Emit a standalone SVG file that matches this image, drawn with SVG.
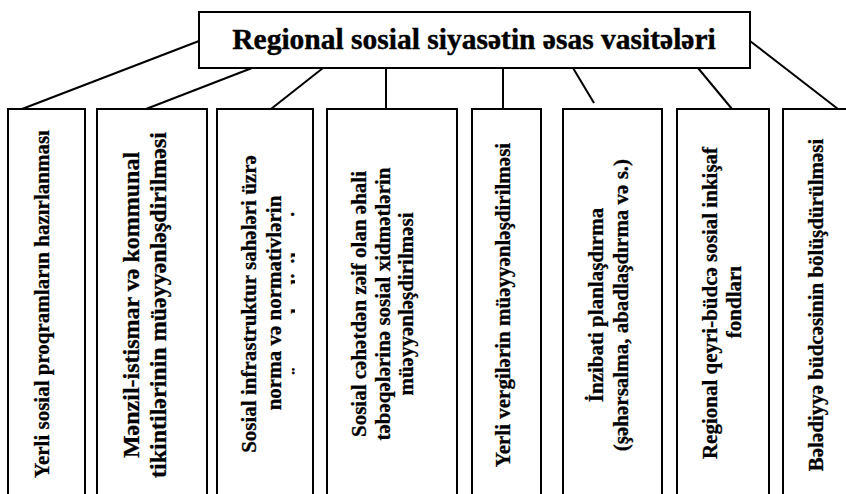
<svg xmlns="http://www.w3.org/2000/svg" width="846" height="494" viewBox="0 0 846 494">
  <style>
    .box { fill: #ffffff; stroke: #000000; stroke-width: 2; }
    .link { stroke: #000000; stroke-width: 2; fill: none; }
    .title { font-family: "Liberation Serif", "DejaVu Serif", serif; font-weight: bold; font-size: 29.5px; fill: #000000; stroke: #000000; stroke-width: 0.4; text-anchor: middle; }
    .lbl { font-family: "Liberation Serif", "DejaVu Serif", serif; font-weight: bold; font-size: 21px; fill: #000000; stroke: #000000; stroke-width: 0.3; text-anchor: middle; }
    .lbl-lg { font-size: 24px; }
  </style>
  <defs>
    <!-- inner text frame of the infrastructure box: its third line overflows and is cut -->
    <clipPath id="frame3" clipPathUnits="userSpaceOnUse">
      <rect x="217" y="109" width="78" height="385"/>
    </clipPath>
  </defs>
  <rect width="846" height="494" fill="#ffffff"/>

  <g id="connectors">
    <line class="link" x1="199" y1="41" x2="22" y2="109"/>
    <line class="link" x1="252" y1="68" x2="146" y2="109"/>
    <line class="link" x1="323" y1="68" x2="271" y2="109"/>
    <line class="link" x1="386" y1="68" x2="386" y2="109"/>
    <line class="link" x1="503" y1="68" x2="503" y2="109"/>
    <line class="link" x1="573" y1="68" x2="594" y2="103"/>
    <line class="link" x1="698" y1="68" x2="732" y2="109"/>
    <line class="link" x1="750" y1="41" x2="838" y2="109"/>
  </g>

  <g id="root">
    <rect class="box" x="199" y="12" width="551" height="56"/>
    <text class="title" x="474" y="49">Regional sosial siyasətin əsas vasitələri</text>
  </g>

  <g id="n1">
    <rect class="box" x="8" y="109" width="77" height="400"/>
    <text class="lbl" transform="translate(49,304) rotate(-90)">Yerli sosial proqramların hazırlanması</text>
  </g>

  <g id="n2">
    <rect class="box" x="97" y="109" width="110" height="400"/>
    <text class="lbl lbl-lg" transform="translate(139,305) rotate(-90)">Mənzil-istismar və kommunal</text>
    <text class="lbl lbl-lg" transform="translate(166,305) rotate(-90)">tikintilərinin müəyyənləşdirilməsi</text>
  </g>

  <g id="n3">
    <rect class="box" x="217" y="109" width="96" height="400"/>
    <g clip-path="url(#frame3)">
      <text class="lbl" transform="translate(256,304) rotate(-90)">Sosial infrastruktur sahələri üzrə</text>
      <text class="lbl" transform="translate(281,303) rotate(-90)">norma və normativlərin</text>
      <text class="lbl" transform="translate(306,303) rotate(-90)">müəyyənləşdirilməsi</text>
    </g>
  </g>

  <g id="n4">
    <rect class="box" x="327" y="109" width="130" height="400"/>
    <text class="lbl" transform="translate(366,304) rotate(-90)">Sosial cəhətdən zəif olan əhali</text>
    <text class="lbl" transform="translate(390,304) rotate(-90)">təbəqələrinə sosial xidmətlərin</text>
    <text class="lbl" transform="translate(413,304) rotate(-90)">müəyyənləşdirilməsi</text>
  </g>

  <g id="n5">
    <rect class="box" x="472" y="109" width="69" height="400"/>
    <text class="lbl" transform="translate(510,305) rotate(-90)">Yerli vergilərin müəyyənləşdirilməsi</text>
  </g>

  <g id="n6">
    <rect class="box" x="563" y="109" width="99" height="400"/>
    <text class="lbl" transform="translate(603,305) rotate(-90)">İnzibati planlaşdırma</text>
    <text class="lbl" transform="translate(628,305) rotate(-90)">(şəhərsalma, abadlaşdırma və s.)</text>
  </g>

  <g id="n7">
    <rect class="box" x="677" y="109" width="92" height="400"/>
    <text class="lbl" transform="translate(717,303) rotate(-90)">Regional qeyri-büdcə sosial inkişaf</text>
    <text class="lbl" transform="translate(741,302) rotate(-90)">fondları</text>
  </g>

  <g id="n8">
    <rect class="box" x="783" y="109" width="80" height="400"/>
    <text class="lbl" transform="translate(823,305) rotate(-90)">Bələdiyyə büdcəsinin bölüşdürülməsi</text>
  </g>
</svg>
